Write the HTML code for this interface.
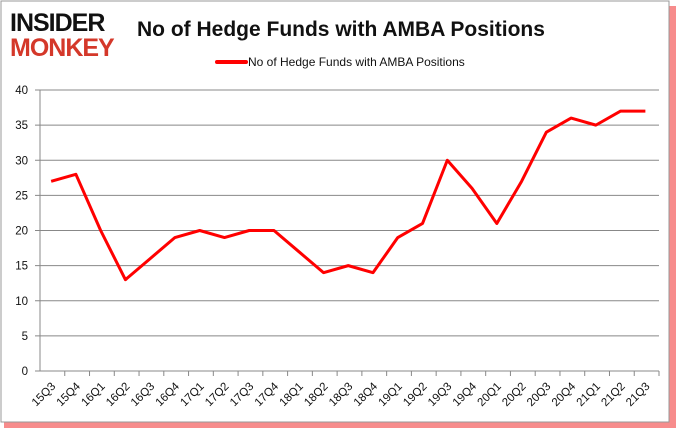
<!DOCTYPE html>
<html><head><meta charset="utf-8"><style>
body{margin:0;background:#fff;}
#wrap{position:relative;width:678px;height:431px;overflow:hidden;}
svg text{font-family:"Liberation Sans",sans-serif;}
</style></head><body>
<div id="wrap">
<svg id="chart" width="678" height="431" xmlns="http://www.w3.org/2000/svg">
  <rect x="4" y="6" width="672" height="422" fill="#e00" opacity="0.45"/>
  <rect x="1" y="1" width="668" height="421" fill="#fff" stroke="#999" stroke-width="1"/>
  <text x="10" y="31" font-size="25" font-weight="bold" fill="#111" style="letter-spacing:-1px">INSIDER</text>
  <text x="10" y="56" font-size="25" font-weight="bold" fill="#d4382a" style="letter-spacing:-1px">MONKEY</text>
  <text x="137" y="36" font-size="21" font-weight="bold" fill="#111">No of Hedge Funds with AMBA Positions</text>
  <line x1="217" y1="62" x2="246" y2="62" stroke="#f00" stroke-width="4" stroke-linecap="round"/>
  <text x="248" y="66" font-size="12" fill="#111">No of Hedge Funds with AMBA Positions</text>
  <g id="grid"></g><g id="axes"></g><g id="series"></g>
</svg>
</div>
<script>
const categories=["15Q3","15Q4","16Q1","16Q2","16Q3","16Q4","17Q1","17Q2","17Q3","17Q4","18Q1","18Q2","18Q3","18Q4","19Q1","19Q2","19Q3","19Q4","20Q1","20Q2","20Q3","20Q4","21Q1","21Q2","21Q3"];
const values=[27,28,20,13,16,19,20,19,20,20,17,14,15,14,19,21,30,26,21,27,34,36,35,37,37];
const yTicks=[0,5,10,15,20,25,30,35,40];
const NS="http://www.w3.org/2000/svg";
const X0=40,X1=659,Y0=371,Y1=90,YMAX=40;
const band=(X1-X0)/categories.length;
function xPos(i){return X0+band*(i+0.45);}
function yPos(v){return Y0-(v/YMAX)*(Y0-Y1);}
function mk(tag,attrs,parent){const e=document.createElementNS(NS,tag);for(const k in attrs)e.setAttribute(k,attrs[k]);parent.appendChild(e);return e;}
const grid=document.getElementById('grid'),axes=document.getElementById('axes'),series=document.getElementById('series');
yTicks.forEach(t=>{
  const y=yPos(t);
  const l=mk('line',{x1:X0-5,x2:X1,y1:y,y2:y,stroke:'#888','stroke-width':1},grid);
  
  
  const tx=mk('text',{x:X0-12,y:y+4,'font-size':11.5,'text-anchor':'end',fill:'#111'},axes);
  tx.textContent=t;
  
  
});
const ya=mk('line',{x1:X0,x2:X0,y1:Y1,y2:Y0,stroke:'#888'},axes);


categories.forEach((c,i)=>{
  const xe=X0+band*(i+1);
  const tk=mk('line',{x1:xe,x2:xe,y1:Y0,y2:Y0+5,stroke:'#888'},axes);
  
  
  const x=xPos(i);
  const tx=mk('text',{x:x+5,y:Y0+16,'font-size':11.5,'text-anchor':'end',fill:'#111',transform:`rotate(-45 ${x+5} ${Y0+16})`},axes);
  tx.textContent=c;
  
  
});
const p=mk('polyline',{points:values.map((v,i)=>xPos(i)+','+yPos(v)).join(' '),fill:'none',stroke:'#f00','stroke-width':3,'stroke-linejoin':'round'},series);


</script>
</body></html>
